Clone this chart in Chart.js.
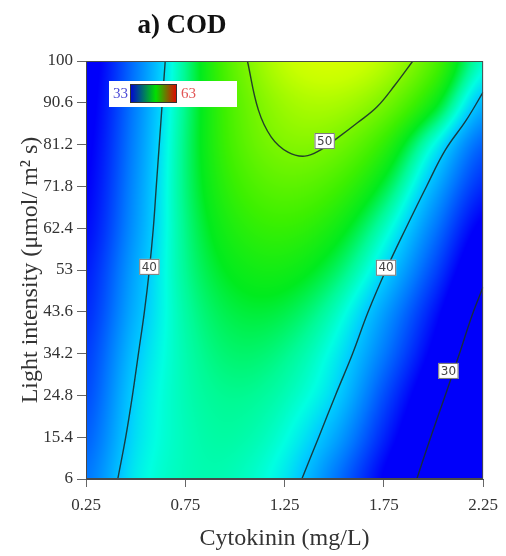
<!DOCTYPE html>
<html>
<head>
<meta charset="utf-8">
<script src="https://cdn.jsdelivr.net/npm/chart.js@4.4.1/dist/chart.umd.min.js"></script>
<style>
  html, body { margin: 0; padding: 0; background: #fff; }
  #wrap { position: relative; width: 506px; height: 556px; }
</style>
</head>
<body>
<div id="wrap"><canvas id="codChart" width="506" height="556"></canvas></div>
<script>
// --- DATA ---
const xTicks = [0.25, 0.75, 1.25, 1.75, 2.25];
const yTicks = [6, 15.4, 24.8, 34.2, 43.6, 53, 62.4, 71.8, 81.2, 90.6, 100];

// surface grid: columns = cytokinin, rows = light intensity (bottom to top)
const gridX = [0.25, 0.5, 0.75, 1.0, 1.25, 1.5, 1.75, 2.0, 2.25];
const gridY = [6, 15.4, 24.8, 34.2, 43.6, 53, 62.4, 71.8, 81.2, 90.6, 100];
const codGrid = [
  [37.0, 40.9, 42.3, 42.3, 40.8, 37.1, 32.8, 28.4, 24.1],
  [36.2, 40.5, 42.3, 42.7, 41.6, 38.7, 34.2, 29.7, 25.1],
  [35.5, 40.2, 42.4, 43.1, 42.4, 40.2, 35.6, 31.0, 26.4],
  [35.0, 39.7, 42.5, 43.7, 43.2, 41.1, 37.1, 32.5, 27.9],
  [34.4, 39.1, 42.7, 44.4, 44.3, 42.3, 38.4, 33.8, 29.1],
  [33.9, 38.7, 43.0, 45.3, 45.7, 44.0, 40.3, 35.5, 30.8],
  [33.3, 38.2, 43.2, 46.3, 47.2, 45.8, 42.2, 37.2, 32.5],
  [32.9, 37.9, 43.4, 47.3, 48.8, 47.8, 44.5, 39.1, 34.4],
  [32.6, 37.6, 43.4, 48.1, 50.3, 49.9, 47.0, 41.5, 36.3],
  [32.3, 37.3, 43.2, 48.5, 51.4, 51.9, 50.0, 45.6, 39.3],
  [32.0, 37.0, 43.1, 49.1, 52.7, 53.7, 52.3, 48.4, 42.0]
];

// contour lines [cytokinin, light]
const contour40Left = [[0.649, 100], [0.634, 90.6], [0.619, 81.2], [0.604, 71.8], [0.589, 62.4], [0.569, 53],
  [0.544, 43.6], [0.514, 34.2], [0.484, 24.8], [0.450, 15.4], [0.410, 6]];
const contour40Right = [[1.337, 6], [1.422, 15.4], [1.507, 24.9], [1.592, 34.1], [1.671, 43.6], [1.761, 53.0],
  [1.861, 62.4], [1.966, 71.9], [2.060, 80.0], [2.165, 86.7], [2.250, 93.0]];
const contour50 = [[1.063, 100], [1.118, 89.0], [1.183, 82.9], [1.267, 79.5], [1.352, 78.6], [1.432, 80.0],
  [1.517, 82.7], [1.617, 86.1], [1.716, 89.7], [1.806, 94.6], [1.896, 100]];
const contour30 = [[1.916, 6], [1.986, 15.4], [2.060, 24.9], [2.130, 34.1], [2.195, 42.9], [2.250, 49.2]];

const contourLabels = [
  { text: '40', x: 0.569, y: 53.7 },
  { text: '50', x: 1.452, y: 82.0 },
  { text: '40', x: 1.761, y: 53.5 },
  { text: '30', x: 2.075, y: 30.3 }
];

const legendMin = 33;
const legendMax = 63;

// colour ramp for the surface
const colorStops = [
  [33, [0, 0, 250]], [37, [0, 120, 255]], [40, [0, 205, 255]], [41.5, [0, 255, 225]],
  [43, [0, 250, 150]], [45, [0, 235, 30]], [47.5, [60, 240, 0]], [50, [120, 245, 0]],
  [53, [200, 255, 0]], [56, [255, 255, 0]], [63, [255, 0, 0]]
];

const SERIF = '"Liberation Serif", "Times New Roman", serif';

function rampColor(z) {
  if (z <= colorStops[0][0]) return colorStops[0][1];
  for (let i = 1; i < colorStops.length; i++) {
    if (z <= colorStops[i][0]) {
      const [z0, c0] = colorStops[i - 1];
      const [z1, c1] = colorStops[i];
      const t = (z - z0) / (z1 - z0);
      return [c0[0] + (c1[0] - c0[0]) * t, c0[1] + (c1[1] - c0[1]) * t, c0[2] + (c1[2] - c0[2]) * t];
    }
  }
  return colorStops[colorStops.length - 1][1];
}

// Catmull-Rom sampling of the grid
function cr(p0, p1, p2, p3, t) {
  return p1 + 0.5 * t * (p2 - p0 + t * (2 * p0 - 5 * p1 + 4 * p2 - p3 + t * (3 * (p1 - p2) + p3 - p0)));
}
function sampleGrid(u, v) {
  const fx = (u - gridX[0]) / (gridX[1] - gridX[0]);
  const fy = (v - gridY[0]) / (gridY[1] - gridY[0]);
  const nx = gridX.length, ny = gridY.length;
  let ix = Math.min(Math.max(Math.floor(fx), 0), nx - 2);
  let iy = Math.min(Math.max(Math.floor(fy), 0), ny - 2);
  const tx = fx - ix, ty = fy - iy;
  const cx = i => Math.min(Math.max(i, 0), nx - 1);
  const cy = j => Math.min(Math.max(j, 0), ny - 1);
  const rows = [];
  for (let j = -1; j <= 2; j++) {
    const r = codGrid[cy(iy + j)];
    rows.push(cr(r[cx(ix - 1)], r[cx(ix)], r[cx(ix + 1)], r[cx(ix + 2)], tx));
  }
  return cr(rows[0], rows[1], rows[2], rows[3], ty);
}

// --- PLUGINS ---
const surfacePlugin = {
  id: 'surface',
  beforeDatasetsDraw(chart) {
    const { ctx, chartArea: a, scales } = chart;
    const l = Math.round(a.left), t = Math.round(a.top);
    const w = Math.round(a.right) - l, h = Math.round(a.bottom) - t;
    const img = ctx.createImageData(w, h);
    for (let py = 0; py < h; py++) {
      const v = scales.y.getValueForPixel(t + py + 0.5);
      for (let px = 0; px < w; px++) {
        const u = scales.x.getValueForPixel(l + px + 0.5);
        const c = rampColor(sampleGrid(u, v));
        const k = (py * w + px) * 4;
        img.data[k] = c[0]; img.data[k + 1] = c[1]; img.data[k + 2] = c[2]; img.data[k + 3] = 255;
      }
    }
    ctx.putImageData(img, l, t);
  }
};

const overlayPlugin = {
  id: 'overlay',
  afterDatasetsDraw(chart) {
    const { ctx, chartArea: a, scales } = chart;
    ctx.save();

    // frame
    ctx.strokeStyle = '#4a4a4a';
    ctx.lineWidth = 1;
    ctx.strokeRect(a.left + 0.5, a.top + 0.5, a.right - a.left - 1, a.bottom - a.top - 1);

    // contour value boxes
    ctx.font = '12px "DejaVu Sans", sans-serif';
    ctx.textAlign = 'center';
    ctx.textBaseline = 'middle';
    contourLabels.forEach(lb => {
      const x = scales.x.getPixelForValue(lb.x);
      const y = scales.y.getPixelForValue(lb.y);
      const tw = ctx.measureText(lb.text).width + 5;
      ctx.fillStyle = '#fff';
      ctx.fillRect(x - tw / 2, y - 8, tw, 16);
      ctx.strokeStyle = '#777';
      ctx.strokeRect(x - tw / 2 + 0.5, y - 7.5, tw - 1, 15);
      ctx.fillStyle = '#444';
      ctx.fillText(lb.text, x, y + 0.5);
    });

    // colour key
    const kx = a.left + 23, ky = a.top + 20;
    ctx.fillStyle = '#fff';
    ctx.fillRect(kx, ky, 128, 26);
    const bx = kx + 21, by = ky + 3, bw = 47, bh = 19;
    const g = ctx.createLinearGradient(bx, 0, bx + bw, 0);
    g.addColorStop(0, '#0000d8');
    g.addColorStop(0.55, '#00e000');
    g.addColorStop(1, '#e80000');
    ctx.fillStyle = g;
    ctx.fillRect(bx, by, bw, bh);
    ctx.strokeStyle = '#333';
    ctx.strokeRect(bx + 0.5, by + 0.5, bw - 1, bh - 1);
    ctx.font = '15px ' + SERIF;
    ctx.textAlign = 'left';
    ctx.fillStyle = '#4b4bd6';
    ctx.fillText(String(legendMin), kx + 4, by + bh / 2 + 1);
    ctx.fillStyle = '#e25555';
    ctx.fillText(String(legendMax), bx + bw + 4, by + bh / 2 + 1);

    // panel title
    ctx.font = 'bold 27px ' + SERIF;
    ctx.textAlign = 'center';
    ctx.fillStyle = '#111';
    ctx.fillText('a) COD', 182, 26);
    ctx.restore();
  }
};

// --- CHART ---
function contourSet(points) {
  return {
    data: points.map(p => ({ x: p[0], y: p[1] })),
    borderColor: 'rgba(25, 45, 45, 0.9)',
    borderWidth: 1.4,
    pointRadius: 0,
    tension: 0.4,
    fill: false
  };
}

const tickFont = { family: SERIF, size: 17 };
const titleFont = { family: SERIF, size: 24 };

new Chart(document.getElementById('codChart').getContext('2d'), {
  type: 'line',
  data: {
    datasets: [contourSet(contour40Left), contourSet(contour40Right), contourSet(contour50), contourSet(contour30)]
  },
  options: {
    responsive: false,
    animation: false,
    devicePixelRatio: 1,
    layout: { padding: { top: 61, right: 19, bottom: 0, left: 0 } },
    plugins: { legend: { display: false }, tooltip: { enabled: false } },
    scales: {
      x: {
        type: 'linear', min: 0.25, max: 2.25,
        afterBuildTicks: s => { s.ticks = xTicks.map(v => ({ value: v })); },
        afterFit: s => { s.height = 77; },
        ticks: { callback: v => v.toFixed(2), color: '#333', font: tickFont, padding: 8, maxRotation: 0 },
        grid: { drawOnChartArea: false, drawTicks: true, tickLength: 8, color: '#666' },
        border: { display: true, color: '#4a4a4a' },
        title: { display: true, text: 'Cytokinin (mg/L)', color: '#333', font: titleFont, padding: { top: 4, bottom: 3 } }
      },
      y: {
        type: 'linear', min: 6, max: 100,
        afterBuildTicks: s => { s.ticks = yTicks.map(v => ({ value: v })); },
        afterFit: s => { s.width = 86; },
        ticks: { callback: v => String(v), color: '#333', font: tickFont, padding: 4 },
        grid: { drawOnChartArea: false, drawTicks: true, tickLength: 9, color: '#666' },
        border: { display: true, color: '#4a4a4a' },
        title: { display: true, text: 'Light intensity (μmol/ m² s)', color: '#333', font: titleFont, padding: { top: 16, bottom: 0 } }
      }
    }
  },
  plugins: [surfacePlugin, overlayPlugin]
});
</script>
</body>
</html>
